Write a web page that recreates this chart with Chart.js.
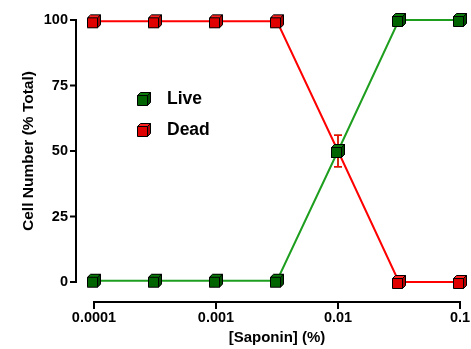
<!DOCTYPE html>
<html>
<head>
<meta charset="utf-8">
<script src="https://cdn.jsdelivr.net/npm/chart.js@4"></script>
<style>
  body { margin: 0; background: #fff; }
</style>
</head>
<body>
<canvas id="cellChart" width="471" height="349"></canvas>
<script>
// saponin concentrations (half-log steps)
const saponin = [0.0001, 0.000316, 0.001, 0.00316, 0.01, 0.0316, 0.1];
const live = [0.5, 0.5, 0.5, 0.5, 50, 100, 100];
const dead = [99.5, 99.5, 99.5, 99.5, 50, 0, 0];
const liveErr = [0, 0, 0, 0, 6, 0, 0];
const deadErr = [0, 0, 0, 0, 6, 0, 0];
const xTicks = [0.0001, 0.001, 0.01, 0.1];
const xTickLabels = ['0.0001', '0.001', '0.01', '0.1'];
const yTicks = [0, 25, 50, 75, 100];

const FONT = '"Liberation Sans", Arial, sans-serif';

// little 3d cube used as the marker
function makeCube(front, top, side) {
  const c = document.createElement('canvas');
  c.width = 16; c.height = 16;
  const g = c.getContext('2d');
  g.lineWidth = 1;
  g.strokeStyle = '#000';
  g.lineJoin = 'round';
  // top face
  g.fillStyle = top;
  g.beginPath();
  g.moveTo(1.5, 4.5); g.lineTo(4.5, 1.5); g.lineTo(14.5, 1.5); g.lineTo(11.5, 4.5); g.closePath();
  g.fill(); g.stroke();
  // side face
  g.fillStyle = side;
  g.beginPath();
  g.moveTo(11.5, 4.5); g.lineTo(14.5, 1.5); g.lineTo(14.5, 11.5); g.lineTo(11.5, 14.5); g.closePath();
  g.fill(); g.stroke();
  // front face
  g.fillStyle = front;
  g.fillRect(1.5, 4.5, 10, 10);
  g.strokeRect(1.5, 4.5, 10, 10);
  return c;
}
const greenCube = makeCube('#006400', '#0a7a0a', '#004d00');
const redCube = makeCube('#e00000', '#ff2020', '#b00000');

// no extra label padding, layout padding decides the plot box
function noPad(s) {
  s.paddingLeft = 0; s.paddingRight = 0; s.paddingTop = 0; s.paddingBottom = 0;
}

const axesPlugin = {
  id: 'prismAxes',
  beforeDatasetsDraw(chart) {
    const ctx = chart.ctx;
    const x = chart.scales.x, y = chart.scales.y;
    // error bars (green first so red stays visible)
    [[live, liveErr, '#1e9e1e'], [dead, deadErr, '#ff0000']].forEach(([vals, errs, col]) => {
      ctx.save();
      ctx.strokeStyle = col;
      ctx.lineWidth = 1.5;
      vals.forEach((v, i) => {
        if (!errs[i]) return;
        const px = x.getPixelForValue(saponin[i]);
        const hi = y.getPixelForValue(v + errs[i]);
        const lo = y.getPixelForValue(v - errs[i]);
        ctx.beginPath();
        ctx.moveTo(px, hi); ctx.lineTo(px, lo);
        ctx.moveTo(px - 4, hi); ctx.lineTo(px + 4, hi);
        ctx.moveTo(px - 4, lo); ctx.lineTo(px + 4, lo);
        ctx.stroke();
      });
      ctx.restore();
    });
  },
  afterDraw(chart) {
    const ctx = chart.ctx;
    const x = chart.scales.x, y = chart.scales.y;
    ctx.save();
    ctx.strokeStyle = '#000';
    ctx.lineWidth = 2;
    // y axis, set off to the left
    const ax = 76;
    const yTop = y.getPixelForValue(100), yBot = y.getPixelForValue(0);
    ctx.beginPath();
    ctx.moveTo(ax, yTop - 1); ctx.lineTo(ax, yBot + 1);
    yTicks.forEach(t => {
      const py = y.getPixelForValue(t);
      ctx.moveTo(ax, py); ctx.lineTo(ax - 6, py);
    });
    ctx.stroke();
    // x axis, set off below
    const ay = 302;
    const xL = x.getPixelForValue(xTicks[0]), xR = x.getPixelForValue(xTicks[xTicks.length - 1]);
    ctx.beginPath();
    ctx.moveTo(xL - 1, ay); ctx.lineTo(xR + 1, ay);
    xTicks.forEach(t => {
      const px = x.getPixelForValue(t);
      ctx.moveTo(px, ay); ctx.lineTo(px, ay + 7);
    });
    ctx.stroke();
    // legend inside plot
    ctx.fillStyle = '#000';
    ctx.font = 'bold 17.5px ' + FONT;
    ctx.textBaseline = 'middle';
    ctx.textAlign = 'left';
    [[greenCube, 'Live', 99], [redCube, 'Dead', 130]].forEach(([img, txt, py]) => {
      ctx.drawImage(img, 144 - 8, py - 8);
      ctx.fillText(txt, 167, py);
    });
    ctx.restore();
  }
};

new Chart(document.getElementById('cellChart'), {
  type: 'line',
  data: {
    datasets: [
      {
        label: 'Live',
        data: saponin.map((c, i) => ({ x: c, y: live[i] })),
        borderColor: '#1e9e1e',
        borderWidth: 2,
        pointStyle: greenCube,
        pointRadius: 7,
        clip: false
      },
      {
        label: 'Dead',
        data: saponin.map((c, i) => ({ x: c, y: dead[i] })),
        borderColor: '#ff0000',
        borderWidth: 2,
        pointStyle: redCube,
        pointRadius: 7,
        clip: false
      }
    ]
  },
  options: {
    responsive: false,
    animation: false,
    layout: { padding: { top: 20, right: 11, left: 0, bottom: 0 } },
    plugins: {
      legend: { display: false },
      tooltip: { enabled: false }
    },
    scales: {
      x: {
        type: 'logarithmic',
        min: 0.0001,
        max: 0.1,
        grid: { display: false, drawTicks: false },
        border: { display: false },
        afterBuildTicks: s => { s.ticks = xTicks.map(v => ({ value: v })); },
        afterFit: s => { s.height = 67; noPad(s); },
        ticks: {
          padding: 27,
          maxRotation: 0,
          autoSkip: false,
          color: '#000',
          font: { family: FONT, size: 14.5, weight: 'bold' },
          callback: (v, i) => xTickLabels[i]
        },
        title: {
          display: true,
          text: '[Saponin] (%)',
          color: '#000',
          padding: { top: 0, bottom: 2 },
          font: { family: FONT, size: 15, weight: 'bold' }
        }
      },
      y: {
        min: 0,
        max: 100,
        grid: { display: false, drawTicks: false },
        border: { display: false },
        afterBuildTicks: s => { s.ticks = yTicks.map(v => ({ value: v })); },
        afterFit: s => { s.width = 94; noPad(s); },
        ticks: {
          padding: 26,
          color: '#000',
          font: { family: FONT, size: 14.5, weight: 'bold' }
        },
        title: {
          display: true,
          text: 'Cell Number (% Total)',
          color: '#000',
          padding: { top: 19, bottom: 0 },
          font: { family: FONT, size: 15.5, weight: 'bold' }
        }
      }
    }
  },
  plugins: [axesPlugin]
});
</script>
</body>
</html>
